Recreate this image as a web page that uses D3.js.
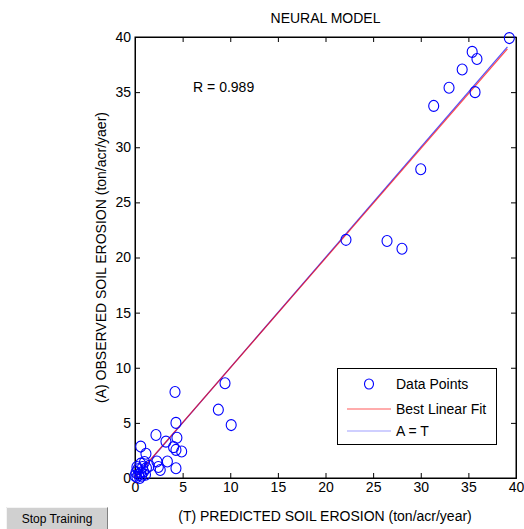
<!DOCTYPE html>
<html><head><meta charset="utf-8">
<script src="https://cdn.jsdelivr.net/npm/d3@7"></script>
<style>body{margin:0;background:#fff}svg{display:block}</style>
</head><body>
<script>
// Data: predicted (T) and observed (A) soil erosion
const predictedT = [39.3,35.4,35.9,34.35,32.97,35.7,31.36,30.0,22.15,26.46,28.03,
  4.2,9.45,8.75,10.1,4.3,2.2,3.25,4.4,0.6,1.15,4.05,4.3,4.9,3.4,2.3,2.45,2.65,4.3,1.0,0.6,1.5,
  0.2,0.4,0.1,0.7,0.3,0.9,0.5,1.1,0.2,0.8,1.2,0.0,0.6];
const observedA = [39.9,38.65,38.0,37.05,35.4,35.0,33.75,28.0,21.6,21.5,20.8,
  7.8,8.6,6.2,4.8,5.0,3.9,3.3,3.65,2.85,2.2,2.8,2.55,2.4,1.5,1.5,1.0,0.73,0.88,1.45,1.3,1.1,
  0.1,0.3,0.5,0.2,0.8,0.6,0.0,0.3,1.0,1.0,0.9,0.2,0.5];
const fitSlope = 0.994, fitIntercept = 0.05;
const lineEnd = [0.0, 39.1];
const R = 0.989;
const xTicks = [0,5,10,15,20,25,30,35,40];
const yTicks = [0,5,10,15,20,25,30,35,40];
const legendItems = ["Data Points","Best Linear Fit","A = T"];

(function(){
const W=524,H=529;
const FONT="'Liberation Sans', Arial, Helvetica, sans-serif";
const svg=d3.select("body").append("svg").attr("width",W).attr("height",H)
  .style("font-family",FONT);
const x=d3.scaleLinear().domain([0,40]).range([135,516]);
const y=d3.scaleLinear().domain([0,40]).range([478,37]);

svg.append("rect").attr("x",x(0)).attr("y",y(40)).attr("width",x(40)-x(0)).attr("height",y(0)-y(40))
  .attr("fill","#fff").attr("stroke","#000").attr("stroke-width",1);

const gB=svg.append("g").attr("transform",`translate(0,${y(0)})`)
  .call(d3.axisBottom(x).tickValues(xTicks).tickSize(-5).tickPadding(8));
const gT=svg.append("g").attr("transform",`translate(0,${y(40)})`)
  .call(d3.axisTop(x).tickValues(xTicks).tickSize(-5).tickFormat(""));
const gL=svg.append("g").attr("transform",`translate(${x(0)},0)`)
  .call(d3.axisLeft(y).tickValues(yTicks).tickSize(-5).tickPadding(5));
const gR=svg.append("g").attr("transform",`translate(${x(40)},0)`)
  .call(d3.axisRight(y).tickValues(yTicks).tickSize(-5).tickFormat(""));
[gB,gT,gL,gR].forEach(g=>{
  g.select(".domain").attr("stroke","#000");
  g.selectAll(".tick line").attr("stroke","#000");
  g.selectAll("text").attr("fill","#000").style("font-size","14px").style("font-family",FONT);
});
gB.selectAll(".tick text").attr("dy","0.71em").attr("y",4);
gL.selectAll(".tick text").attr("x",-4);

const [tMin,tMax]=lineEnd;
svg.append("line").attr("x1",x(tMin)).attr("y1",y(tMin)).attr("x2",x(tMax)).attr("y2",y(tMax))
  .attr("stroke","#5050ff").attr("stroke-width",1.2);
svg.append("line").attr("x1",x(tMin)).attr("y1",y(fitSlope*tMin+fitIntercept))
  .attr("x2",x(tMax)).attr("y2",y(fitSlope*tMax+fitIntercept))
  .attr("stroke","#ff0000").attr("stroke-opacity",0.7).attr("stroke-width",1.2);

svg.append("g").selectAll("ellipse").data(predictedT.map((t,i)=>[t,observedA[i]])).join("ellipse")
  .attr("cx",d=>x(d[0])).attr("cy",d=>y(d[1])).attr("rx",5).attr("ry",5.5)
  .attr("fill","none").attr("stroke","#0000ff").attr("stroke-width",1.1);

svg.append("text").attr("x",x(6.1)).attr("y",y(35.5)).attr("dy","0.35em")
  .style("font-size","14px").text("R = "+R);

svg.append("text").attr("x",x(20)).attr("y",18).attr("dy","0.35em").attr("text-anchor","middle")
  .style("font-size","14px").text("NEURAL MODEL");
svg.append("text").attr("x",325).attr("y",516).attr("dy","0.35em").attr("text-anchor","middle")
  .style("font-size","14px").text("(T) PREDICTED SOIL EROSION (ton/acr/year)");
svg.append("text").attr("transform",`translate(101,${(y(0)+y(40))/2}) rotate(-90)`)
  .attr("dy","0.35em").attr("text-anchor","middle")
  .style("font-size","14px").text("(A) OBSERVED SOIL EROSION (ton/acr/yaer)");

const lg=svg.append("g");
lg.append("rect").attr("x",337.5).attr("y",368.5).attr("width",159).attr("height",76)
  .attr("fill","#fff").attr("stroke","#000").attr("stroke-width",1);
const rowsY=[384,409,431];
lg.append("ellipse").attr("cx",369).attr("cy",rowsY[0]).attr("rx",4.5).attr("ry",5)
  .attr("fill","none").attr("stroke","#0000ff").attr("stroke-width",1.1);
lg.append("line").attr("x1",347).attr("x2",391).attr("y1",rowsY[1]).attr("y2",rowsY[1])
  .attr("stroke","#ff5a5a").attr("stroke-width",1.2);
lg.append("line").attr("x1",347).attr("x2",391).attr("y1",rowsY[2]).attr("y2",rowsY[2])
  .attr("stroke","#a0a0ff").attr("stroke-width",1.2);
legendItems.forEach((s,i)=>{
  lg.append("text").attr("x",396).attr("y",rowsY[i]).attr("dy","0.35em")
    .style("font-size","14px").text(s);
});

const b=svg.append("g");
b.append("rect").attr("x",6).attr("y",507).attr("width",102).attr("height",24).attr("fill","#d0d0d0");
b.append("path").attr("d","M6.5,531 V507.5 H107.5").attr("fill","none").attr("stroke","#f4f4f4");
b.append("path").attr("d","M107.5,507.5 V531").attr("fill","none").attr("stroke","#808080");
b.append("text").attr("x",57).attr("y",519).attr("dy","0.35em").attr("text-anchor","middle")
  .style("font-size","12px").text("Stop Training");
})();
</script>
</body></html>
